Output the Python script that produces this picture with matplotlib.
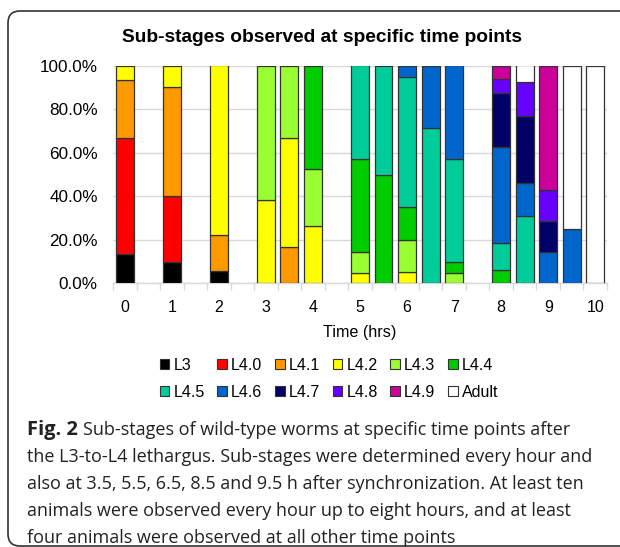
import numpy as np
import matplotlib
matplotlib.use("Agg")
import matplotlib.pyplot as plt
from matplotlib.patches import Patch, FancyBboxPatch
from matplotlib.transforms import IdentityTransform

plt.rcParams['font.family'] = ['Liberation Sans', 'DejaVu Sans']

# time slots every half hour, some slots are empty
times = [0, 0.5, 1, 1.5, 2, 2.5, 3, 3.5, 4, 4.5, 5, 5.5, 6, 6.5, 7, 7.5, 8, 8.5, 9, 9.5, 10]
hour_labels = ["0", "1", "2", "3", "4", "5", "6", "7", "8", "9", "10"]

stages = ["L3", "L4.0", "L4.1", "L4.2", "L4.3", "L4.4",
          "L4.5", "L4.6", "L4.7", "L4.8", "L4.9", "Adult"]
colors = ["#000000", "#FF0000", "#FF9900", "#FFFF00", "#99FF33", "#00CC00",
          "#00CC99", "#0066CC", "#000066", "#6600FF", "#CC0099", "#FFFFFF"]

#          0    .5   1    1.5  2    2.5  3    3.5  4    4.5  5    5.5  6    6.5  7    7.5  8     8.5   9     9.5  10
L3    = [13.3, 0, 10.0, 0,  5.6, 0,   0,   0,   0,   0,   0,   0,   0,   0,   0,   0,   0,    0,    0,    0,   0]
L4_0  = [53.3, 0, 30.0, 0,  0,   0,   0,   0,   0,   0,   0,   0,   0,   0,   0,   0,   0,    0,    0,    0,   0]
L4_1  = [26.7, 0, 50.0, 0, 16.7, 0,   0,  16.7, 0,   0,   0,   0,   0,   0,   0,   0,   0,    0,    0,    0,   0]
L4_2  = [6.7,  0, 10.0, 0, 77.8, 0, 38.5, 50.0, 26.3, 0, 4.8,  0,  5.0,  0,   0,   0,   0,    0,    0,    0,   0]
L4_3  = [0,    0, 0,    0,  0,   0, 61.5, 33.3, 26.3, 0, 9.5,  0, 15.0,  0,  4.8,  0,   0,    0,    0,    0,   0]
L4_4  = [0,    0, 0,    0,  0,   0,   0,   0, 47.4, 0, 42.9, 50.0, 15.0, 0, 4.8,  0, 6.25,   0,    0,    0,   0]
L4_5  = [0,    0, 0,    0,  0,   0,   0,   0,   0,  0, 42.9, 50.0, 60.0, 71.4, 47.6, 0, 12.5, 30.8,  0,    0,   0]
L4_6  = [0,    0, 0,    0,  0,   0,   0,   0,   0,  0,  0,   0,   5.0, 28.6, 42.9, 0, 43.75, 15.4, 14.3, 25.0, 0]
L4_7  = [0,    0, 0,    0,  0,   0,   0,   0,   0,  0,  0,   0,   0,   0,   0,   0, 25.0,  30.8, 14.3,  0,   0]
L4_8  = [0,    0, 0,    0,  0,   0,   0,   0,   0,  0,  0,   0,   0,   0,   0,   0, 6.25,  15.4, 14.3,  0,   0]
L4_9  = [0,    0, 0,    0,  0,   0,   0,   0,   0,  0,  0,   0,   0,   0,   0,   0, 6.25,   0,   57.1,  0,   0]
Adult = [0,    0, 0,    0,  0,   0,   0,   0,   0,  0,  0,   0,   0,   0,   0,   0,   0,    7.7,   0,  75.0, 100.0]

series = [L3, L4_0, L4_1, L4_2, L4_3, L4_4, L4_5, L4_6, L4_7, L4_8, L4_9, Adult]

W, H = 620, 547
fig = plt.figure(figsize=(W / 100, H / 100), dpi=100)
ax = fig.add_axes([113 / W, 1 - 283.3 / H, (607 - 113) / W, (283.3 - 65.7) / H])

x = np.arange(len(times))
bottom = np.zeros(len(times))
handles = []
for name, vals, c in zip(stages, series, colors):
    vals = np.array(vals, dtype=float)
    m = vals > 0
    ax.bar(x[m], vals[m], bottom=bottom[m], width=0.76, color=c,
           edgecolor="#333333", linewidth=0.9, zorder=3)
    bottom += vals
    handles.append(Patch(facecolor=c, edgecolor="#333333", linewidth=0.8))

ax.set_xlim(-0.5, len(times) - 0.5)
ax.set_ylim(0, 100)
ax.set_yticks(np.arange(0, 101, 20))
ax.set_yticklabels([f"{v:.1f}%" for v in range(0, 101, 20)], fontsize=12.3)
ax.grid(axis="y", color="#D9D9D9", linewidth=1, zorder=0)
for s in ["left", "right", "top"]:
    ax.spines[s].set_visible(False)
ax.spines["bottom"].set_color("#D9D9D9")
ax.spines["bottom"].set_linewidth(1)
ax.tick_params(axis="y", length=0, pad=11)

hour_pos = [times.index(float(h)) for h in range(11)]
ax.set_xticks(hour_pos)
ax.set_xticklabels(hour_labels, fontsize=11.5)
ax.set_xticks(np.arange(-0.5, len(times), 1), minor=True)
ax.tick_params(axis="x", which="major", length=0, pad=12)
ax.tick_params(axis="x", which="minor", length=5, color="#D9D9D9", width=1)
ax.set_xlabel("Time (hrs)", fontsize=11.6, labelpad=7)

fig.text(322 / W, 1 - 37 / H, "Sub-stages observed at specific time points",
         ha="center", va="center", fontsize=13.8, fontweight="bold")

# legend fills column-wise, so interleave the two rows
order = [i + r * 6 for i in range(6) for r in range(2)]
fig.legend([handles[i] for i in order], [stages[i] for i in order], ncol=6,
           loc="center", bbox_to_anchor=(329 / W, 1 - 379 / H),
           frameon=False, fontsize=11.5, handlelength=0.6, handleheight=0.6,
           handletextpad=0.25, columnspacing=0.8, labelspacing=0.75, borderpad=0)

# caption
cap_lines = [
    "Sub-stages of wild-type worms at specific time points after",
    "the L3-to-L4 lethargus. Sub-stages were determined every hour and",
    "also at 3.5, 5.5, 6.5, 8.5 and 9.5 h after synchronization. At least ten",
    "animals were observed every hour up to eight hours, and at least",
    "four animals were observed at all other time points",
]
cap_y = [430, 457, 484, 511, 538]
cap_font = ["Open Sans", "DejaVu Sans"]
renderer = fig.canvas.get_renderer()
fig_lbl = fig.text(27 / W, 1 - cap_y[0] / H, "Fig. 2", family=cap_font, fontsize=14.5,
                   fontweight="bold", va="center", color="#222222")
bb = fig_lbl.get_window_extent(renderer)
x_after = (bb.x1 + 5) / W
for i, (line, yy) in enumerate(zip(cap_lines, cap_y)):
    xx = x_after if i == 0 else 27 / W
    fig.text(xx, 1 - yy / H, line, family=cap_font, fontsize=13,
             va="center", color="#222222")

# rounded frame around the figure
frame = FancyBboxPatch((8, 1), 700, 535, boxstyle="round,pad=0,rounding_size=12",
                       transform=IdentityTransform(), facecolor="none",
                       edgecolor="#333333", linewidth=1.2)
fig.patches.append(frame)

fig.savefig("out.png", dpi=100)
